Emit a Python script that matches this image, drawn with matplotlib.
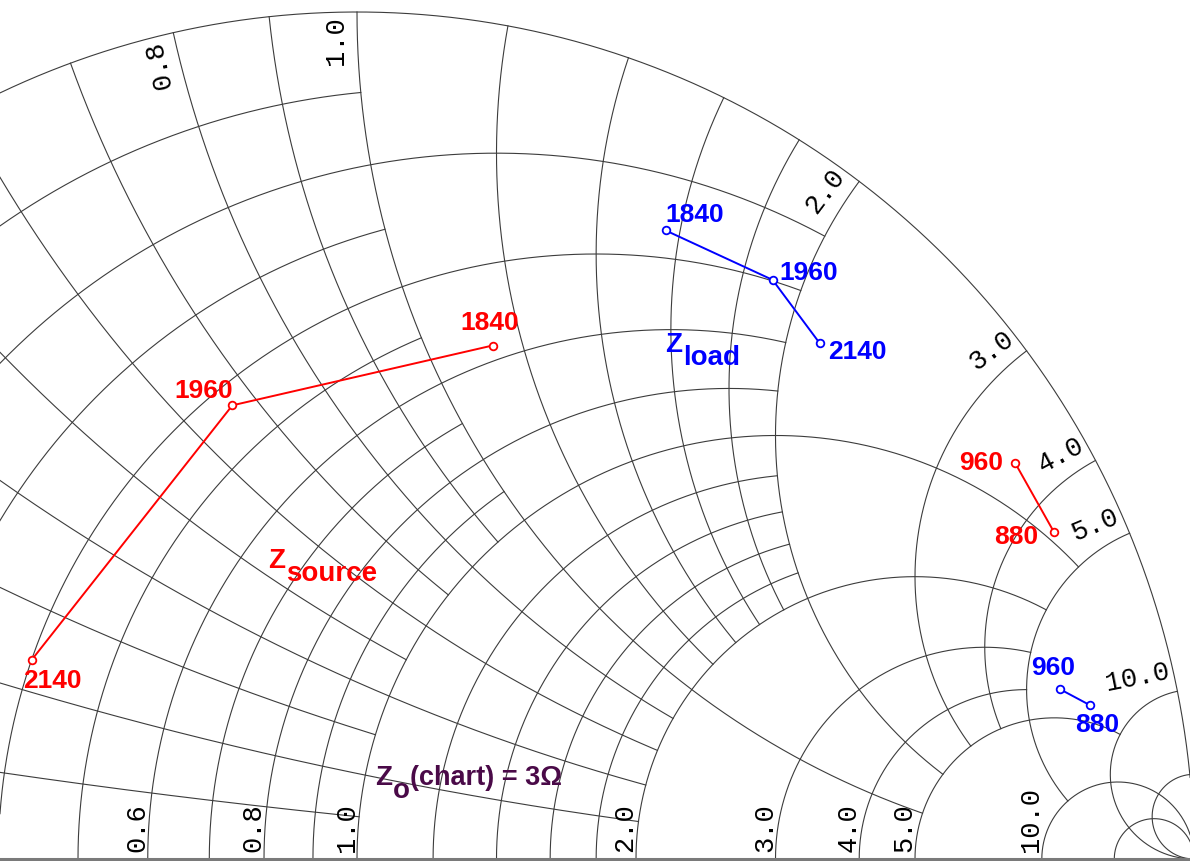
import numpy as np
import matplotlib.pyplot as plt

# chart normalisation (ohms)
z0 = 3.0

# source / load impedances in ohms
src_freq = ['1840', '1960', '2140']
src_z = [1.70 + 3.40j, 1.29 + 2.00j, 1.20 + 0.71j]
load_freq = ['1840', '1960', '2140']
load_z = [0.99 + 4.69j, 1.19 + 5.69j, 1.70 + 6.40j]
src_lo_freq = ['960', '880']
src_lo_z = [1.85 + 10.61j, 2.67 + 13.08j]
load_lo_freq = ['960', '880']
load_lo_z = [11.6 + 18.3j, 12.4 + 22.5j]

# smith grid: value and how far along the other family it runs
grid_vals = [0.1, 0.2, 0.3, 0.4, 0.5, 0.6, 0.7, 0.8, 0.9, 1.0,
             1.2, 1.4, 1.6, 1.8, 2.0, 3.0, 4.0, 5.0, 10.0, 20.0]
grid_lims = [1, 2, 1, 2, 1, 2, 1, 2, 1, 5,
             2, 2, 2, 2, 5, 5, 5, 10, np.inf, np.inf]
grid_labels = [0.2, 0.4, 0.6, 0.8, 1.0, 2.0, 3.0, 4.0, 5.0, 10.0]


def gam(z):
    return (z - 1) / (z + 1)


fig = plt.figure(figsize=(11.9, 8.61), dpi=100)
ax = fig.add_axes([0, 0, 1, 1])
ax.set_xlim(-357 / 837, 833 / 837)
ax.set_ylim(-2 / 847, 859 / 847)
ax.axis('off')

gc = '#3c3c3c'
glw = 0.8
steps = np.linspace(0, 1, 1500)

# outer circle
g = gam(1j * np.tan(steps * np.pi / 2))
ax.plot(g.real, g.imag, color=gc, lw=glw)

for v, lim in zip(grid_vals, grid_lims):
    t = np.tan(steps * np.arctan(lim))
    g = gam(v + 1j * t)
    ax.plot(g.real, g.imag, color=gc, lw=glw)
    g = gam(t + 1j * v)
    ax.plot(g.real, g.imag, color=gc, lw=glw)

# real axis
ends = gam(np.array([0.0, 1e12]))
ax.plot(ends.real, ends.imag, color='#7a7a7a', lw=2.2, solid_capstyle='butt')

lab_font = dict(family='Liberation Mono', size=19.5, color='black')
for v in grid_labels:
    g = gam(v)
    ax.annotate(f'{v:.1f}', (g.real, 0), xytext=(-2.5, 5), textcoords='offset points',
                rotation=90, rotation_mode='anchor', ha='left', va='baseline', **lab_font)
    gb = gam(1j * v)
    th = np.angle(gb)
    a, b = 3.0, 10.0
    dx = -a * np.cos(th) - b * np.sin(th)
    dy = -a * np.sin(th) + b * np.cos(th)
    ax.annotate(f'{v:.1f}', (gb.real, gb.imag), xytext=(dx, dy), textcoords='offset points',
                rotation=np.degrees(th), rotation_mode='anchor', ha='right', va='baseline',
                **lab_font)

red = '#ff0000'
blue = '#0000ff'
num_font = dict(family='Liberation Sans', weight='bold', size=19)


def draw(zs, labels, offs, col):
    g = gam(np.array(zs) / z0)
    ax.plot(g.real, g.imag, color=col, lw=1.4, marker='o', ms=5.5, mfc='white',
            mec=col, mew=1.3)
    for gg, lab, off in zip(g, labels, offs):
        ax.annotate(lab, (gg.real, gg.imag), xytext=off, textcoords='offset points',
                    ha='center', va='center', color=col, **num_font)


draw(src_z, src_freq, [(-2, 16.5), (-21, 10), (15, -15)], red)
draw(load_z, load_freq, [(21, 11), (26, 5), (27, -6.5)], blue)
draw(src_lo_z, src_lo_freq, [(-24.5, 0), (-27, -3.5)], red)
draw(load_lo_z, load_lo_freq, [(-5, 15), (5, -14)], blue)


def zlabel(pos, sub, rest, col):
    ax.annotate('Z', pos, color=col, family='Liberation Sans', weight='bold', size=20,
                ha='left', va='baseline')
    ax.annotate(sub, pos, xytext=(13, -9.5), textcoords='offset points', color=col,
                family='Liberation Sans', weight='bold', size=20, ha='left', va='baseline')
    if rest:
        ax.annotate(rest, pos, xytext=(25, 0), textcoords='offset points', color=col,
                    family='Liberation Sans', weight='bold', size=19.5, ha='left',
                    va='baseline')


zlabel((-0.1063, 0.3436), 'source', '', red)
zlabel((0.368, 0.5986), 'load', '', blue)
zlabel((0.0215, 0.0874), 'o', '(chart) = 3\u03a9', '#4a0a48')

fig.savefig('out.png', dpi=100)
